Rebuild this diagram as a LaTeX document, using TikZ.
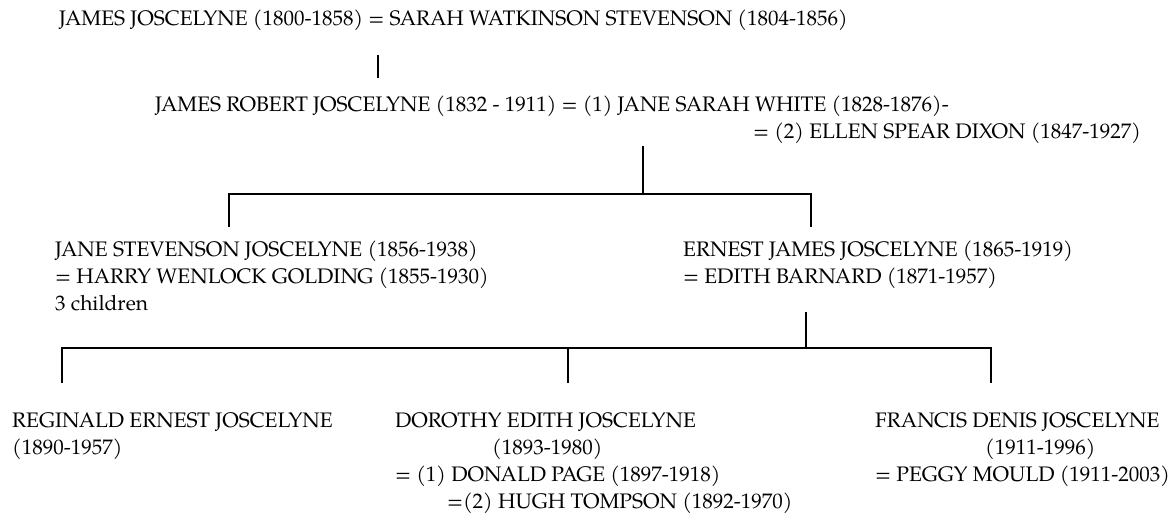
\documentclass[tikz,border=0pt]{standalone}
\usepackage{fontspec}
\setmainfont{TeX Gyre Pagella}
\begin{document}
\begin{tikzpicture}[x=1pt,y=-1pt,
  txt/.style={anchor=base west, inner sep=0pt, font=\fontsize{21}{27}\selectfont},
  ln/.style={line width=2pt}]
\useasboundingbox (0,0) rectangle (1176,524);
\fill[white] (0,0) rectangle (1176,524);
% generation 1
\node[txt] (g1) at (59,26) {JAMES JOSCELYNE (1800-1858) = SARAH WATKINSON STEVENSON (1804-1856)};
% generation 2
\node[txt] (g2a) at (155,112) {JAMES ROBERT JOSCELYNE (1832 - 1911) = (1) JANE SARAH WHITE (1828-1876)-};
\node[txt] (g2b) at (753,139) {= (2) ELLEN SPEAR DIXON (1847-1927)};
% generation 3
\node[txt] (g3a1) at (55,256) {JANE STEVENSON JOSCELYNE (1856-1938)};
\node[txt] (g3a2) at (55,283) {= HARRY WENLOCK GOLDING (1855-1930)};
\node[txt] (g3a3) at (55,310) {3 children};
\node[txt] (g3b1) at (683,256) {ERNEST JAMES JOSCELYNE (1865-1919)};
\node[txt] (g3b2) at (683,283) {= EDITH BARNARD (1871-1957)};
% generation 4
\node[txt] (g4a1) at (12,427) {REGINALD ERNEST JOSCELYNE};
\node[txt] (g4a2) at (12,454) {(1890-1957)};
\node[txt] (g4b1) at (395,427) {DOROTHY EDITH JOSCELYNE};
\node[txt] (g4b2) at (492,454) {(1893-1980)};
\node[txt] (g4b3) at (395,481) {= (1) DONALD PAGE (1897-1918)};
\node[txt] (g4b4) at (447,508) {=(2) HUGH TOMPSON (1892-1970)};
\node[txt] (g4c1) at (875,427) {FRANCIS DENIS JOSCELYNE};
\node[txt] (g4c2) at (985,454) {(1911-1996)};
\node[txt] (g4c3) at (875,481) {= PEGGY MOULD (1911-2003)};
% connectors
\coordinate (c1t) at (378,55); \coordinate (c1b) at (378,78);
\draw[ln] (c1t) -- (c1b);
\coordinate (c2t) at (643,146); \coordinate (c2b) at (643,194);
\coordinate (c2l) at (229,194); \coordinate (c2r) at (811,194);
\coordinate (c2lb) at (229,227); \coordinate (c2rb) at (811,227);
\draw[ln] (c2t) -- (c2b);
\draw[ln] (c2lb) -- (c2l) -- (c2r) -- (c2rb);
\coordinate (c3t) at (806,312); \coordinate (c3b) at (806,348);
\coordinate (c3l) at (62,348); \coordinate (c3m) at (568,348); \coordinate (c3r) at (991,348);
\coordinate (c3lb) at (62,383); \coordinate (c3mb) at (568,383); \coordinate (c3rb) at (991,383);
\draw[ln] (c3t) -- (c3b);
\draw[ln] (c3lb) -- (c3l) -- (c3r) -- (c3rb);
\draw[ln] (c3m) -- (c3mb);
\end{tikzpicture}
\end{document}
